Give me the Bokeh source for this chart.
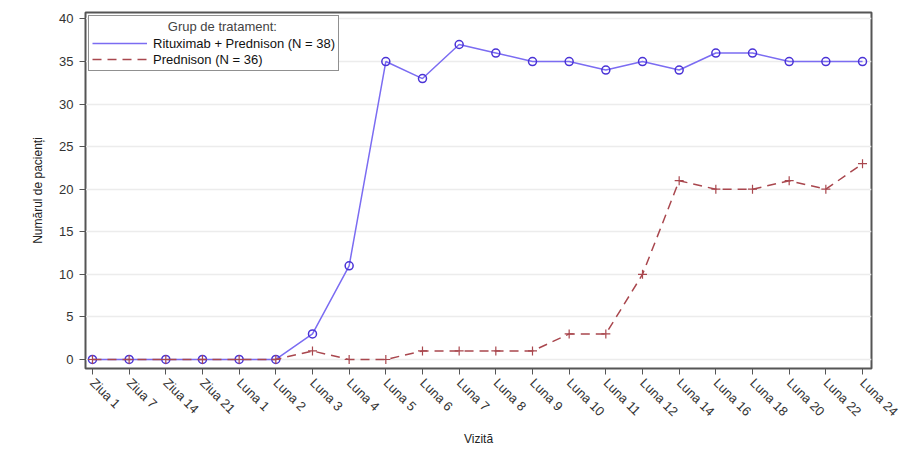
import math
from bokeh.plotting import figure
from bokeh.models import Range1d, FixedTicker, Legend, LegendItem
from bokeh.embed import file_html
from bokeh.resources import INLINE

visits = ["Ziua 1", "Ziua 7", "Ziua 14", "Ziua 21", "Luna 1", "Luna 2", "Luna 3", "Luna 4",
          "Luna 5", "Luna 6", "Luna 7", "Luna 8", "Luna 9", "Luna 10", "Luna 11", "Luna 12",
          "Luna 14", "Luna 16", "Luna 18", "Luna 20", "Luna 22", "Luna 24"]
ritux_pred = [0, 0, 0, 0, 0, 0, 3, 11, 35, 33, 37, 36, 35, 35, 34, 35, 34, 36, 36, 35, 35, 35]
pred = [0, 0, 0, 0, 0, 0, 1, 0, 0, 1, 1, 1, 1, 3, 3, 10, 21, 20, 20, 21, 20, 23]
y_ticks = [0, 5, 10, 15, 20, 25, 30, 35, 40]

x = list(range(len(visits)))

p = figure(width=921, height=461, output_backend="svg", toolbar_location=None,
           x_range=Range1d(-0.19, 21.245), y_range=Range1d(-1.06, 40.76),
           min_border_left=85, min_border_right=50, min_border_top=12, min_border_bottom=93)

FONT = "Liberation Sans"
p.outline_line_color = "#555555"
p.outline_line_width = 2
p.background_fill_color = "white"
p.border_fill_color = "white"

p.xgrid.visible = False
p.ygrid.grid_line_color = "#ececec"
p.ygrid.grid_line_width = 1.5
p.ygrid.ticker = FixedTicker(ticks=y_ticks)

p.xaxis.ticker = FixedTicker(ticks=x)
p.xaxis.major_label_overrides = {i: v for i, v in enumerate(visits)}
p.xaxis.major_label_orientation = -math.pi / 4
p.yaxis.ticker = FixedTicker(ticks=y_ticks)

for ax in (p.xaxis[0], p.yaxis[0]):
    ax.axis_line_color = "#555555"
    ax.axis_line_width = 1
    ax.major_tick_in = 0
    ax.major_tick_out = 6
    ax.major_tick_line_color = "#555555"
    ax.minor_tick_line_color = None
    ax.major_label_text_font = FONT
    ax.major_label_text_font_size = "13px"
    ax.major_label_text_color = "#333333"
    ax.axis_label_text_font = FONT
    ax.axis_label_text_font_size = "12px"
    ax.axis_label_text_font_style = "normal"
    ax.axis_label_text_color = "#222222"

p.xaxis.axis_label = "Vizită"
p.yaxis.axis_label = "Numărul de pacienți"
p.xaxis.major_label_standoff = 6
p.yaxis.major_label_standoff = 6
p.yaxis.axis_label_standoff = 11

blue_line = "#7b6cf2"
blue_mark = "#4a33d6"
red = "#a9474e"

r1 = p.line(x, ritux_pred, line_color=blue_line, line_width=1.5)
m1 = p.scatter(x, ritux_pred, marker="circle", size=8, line_color=blue_mark, fill_color=None, line_width=1.5)
r2 = p.line(x, pred, line_color=red, line_width=1.5, line_dash="9 6")
m2 = p.scatter(x, pred, marker="cross", size=9, line_color=red, line_width=1.2)

legend = Legend(items=[LegendItem(label="Rituximab + Prednison (N = 38)", renderers=[r1]),
                       LegendItem(label="Prednison (N = 36)", renderers=[r2])],
                location="top_left",
                title="\u00a0" * 21 + "Grup de tratament:",
                title_text_font=FONT, title_text_font_size="13px", title_text_font_style="normal",
                title_standoff=1,
                label_text_font=FONT, label_text_font_size="13px", label_text_color="#111111",
                border_line_color="#222222", border_line_width=1.2,
                background_fill_alpha=1.0,
                glyph_width=55, glyph_height=16, label_height=16, spacing=0,
                padding=3, margin=3, label_standoff=6)
p.add_layout(legend)

open("out.html", "w").write(file_html(p, INLINE))
